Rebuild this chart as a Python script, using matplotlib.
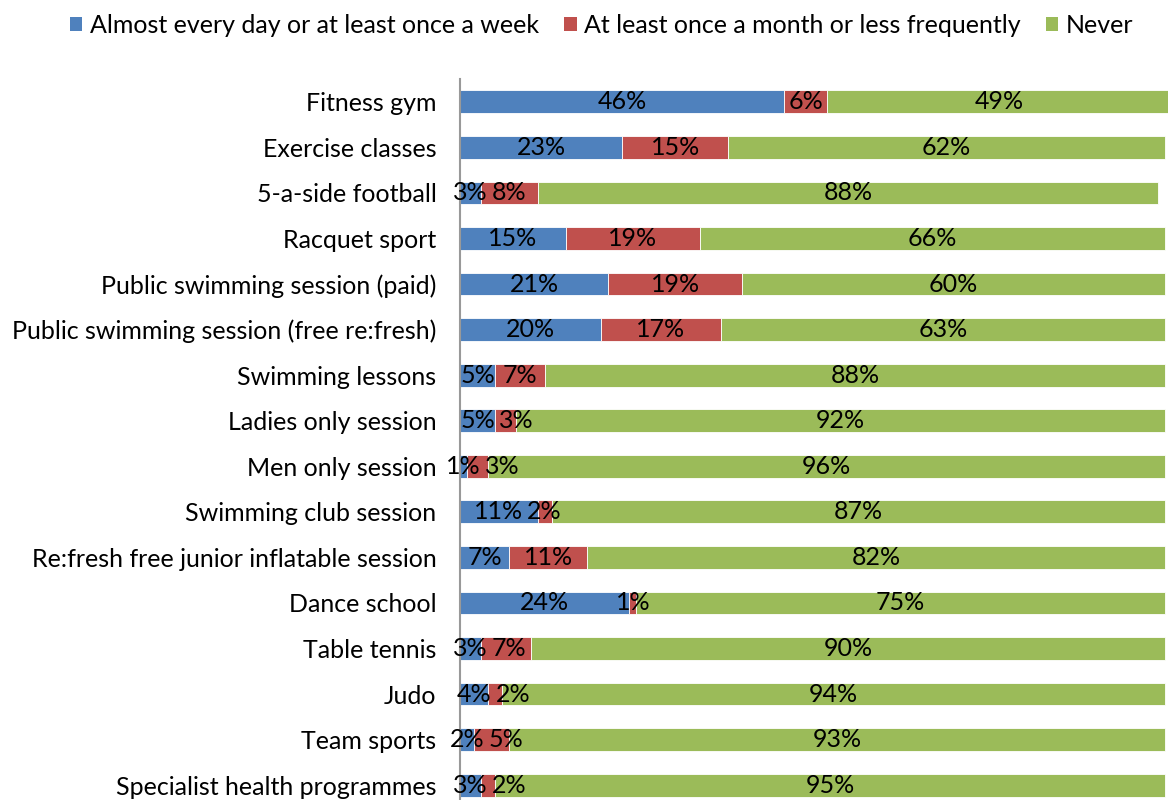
import numpy as np
import matplotlib
matplotlib.use('Agg')
import matplotlib.pyplot as plt
from matplotlib.patches import Patch

plt.rcParams['font.family'] = ['Lato', 'DejaVu Sans']

# data
categories = ['Fitness gym', 'Exercise classes', '5-a-side football', 'Racquet sport',
              'Public swimming session (paid)', 'Public swimming session (free re:fresh)',
              'Swimming lessons', 'Ladies only session', 'Men only session',
              'Swimming club session', 'Re:fresh free junior inflatable session',
              'Dance school', 'Table tennis', 'Judo', 'Team sports',
              'Specialist health programmes']
weekly  = [46, 23, 3, 15, 21, 20, 5, 5, 1, 11, 7, 24, 3, 4, 2, 3]
monthly = [6, 15, 8, 19, 19, 17, 7, 3, 3, 2, 11, 1, 7, 2, 5, 2]
never   = [49, 62, 88, 66, 60, 63, 88, 92, 96, 87, 82, 75, 90, 94, 93, 95]
series_names = ['Almost every day or at least once a week',
                'At least once a month or less frequently', 'Never']
colours = ['#4F81BD', '#C0504D', '#9BBB59']

fs = 18
fig = plt.figure(figsize=(11.68, 8.0), dpi=100)
ax = fig.add_axes([460/1168, -8/800, 708/1168, 729/800])

y = np.arange(len(categories))
left = np.zeros(len(categories))
labels = []   # labels[series][row]
for vals, col in zip([weekly, monthly, never], colours):
    vals = np.array(vals, dtype=float)
    ax.barh(y, vals, left=left, height=0.5, color=col, edgecolor='white', linewidth=0.6)
    row = []
    for yi, l, v in zip(y, left, vals):
        row.append(ax.text(l + v/2, yi, '%d%%' % v, ha='center', va='center',
                           fontsize=fs, color='black'))
    labels.append(row)
    left += vals

ax.set_xlim(0, 100.4)
ax.set_ylim(len(categories) - 0.5, -0.5)
ax.set_yticks(y)
ax.set_yticklabels(categories, fontsize=fs)
ax.tick_params(axis='y', length=0, pad=17)
ax.set_xticks([])
for s in ['top', 'right', 'bottom']:
    ax.spines[s].set_visible(False)
ax.spines['left'].set_color('#999999')
ax.spines['left'].set_linewidth(1.5)

# push a small label to the right when it runs into the one before it
fig.canvas.draw()
r = fig.canvas.get_renderer()
px_per_unit = ax.transData.transform((1, 0))[0] - ax.transData.transform((0, 0))[0]
for i in range(len(categories)):
    for k in (1, 2):
        prev = labels[k-1][i].get_window_extent(r)
        cur = labels[k][i].get_window_extent(r)
        if cur.x0 < prev.x1 + 4:
            shift = (prev.x1 + 4 - cur.x0) / px_per_unit
            x0, y0 = labels[k][i].get_position()
            labels[k][i].set_position((x0 + shift, y0))

handles = [Patch(facecolor=c) for c in colours]
fig.legend(handles, series_names, loc='center', bbox_to_anchor=(0.515, 0.968), ncol=3,
           frameon=False, fontsize=fs, handlelength=0.5, handleheight=0.5,
           handletextpad=0.3, columnspacing=1.0)

fig.savefig('out.png', dpi=100)
